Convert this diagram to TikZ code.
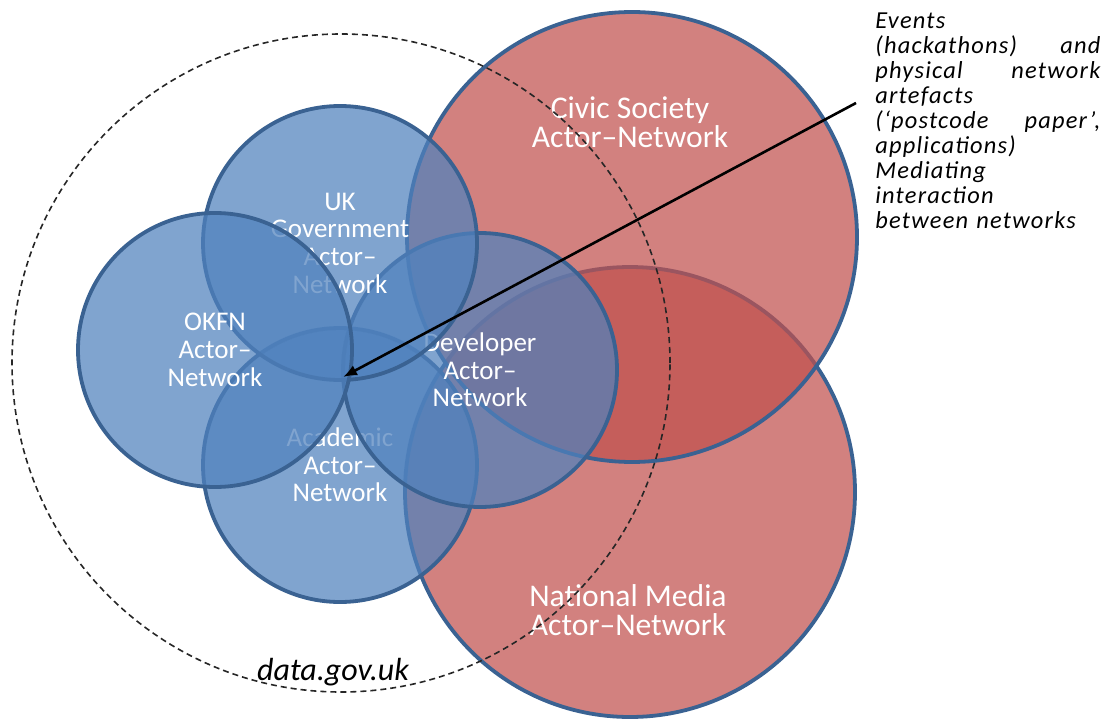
\documentclass[tikz,border=0pt]{standalone}
\usepackage{fontspec}
\setmainfont{Carlito}
\newfontfamily\notefont[LetterSpace=5]{Carlito}
\usetikzlibrary{arrows.meta,positioning}

\definecolor{accblue}{RGB}{79,129,189}
\definecolor{accred}{RGB}{192,80,77}
\definecolor{rimblue}{RGB}{58,98,146}

\tikzset{
  netcirc/.style={circle,draw=rimblue,line width=1.9pt,fill opacity=0.72,text opacity=1,
    inner sep=0pt,text=white,align=center},
  bluenet/.style={netcirc,fill=accblue,minimum size=137pt,
    font=\fontsize{13.5}{13.85}\selectfont},
  rednet/.style={netcirc,fill=accred,minimum size=225pt},
  redlabel/.style={text=white,align=center,
    font=\fontsize{15.8}{14.6}\selectfont},
  portal/.style={circle,draw=black!85,line width=0.8pt,dash pattern=on 3pt off 2pt,
    minimum size=329pt,inner sep=0pt},
  notebox/.style={text width=112.5pt,align=left,inner sep=0pt,
    font=\notefont\itshape\fontsize{12.2}{12.55}\selectfont},
}

\begin{document}
\setlength{\lineskiplimit}{-20pt}
\begin{tikzpicture}[x=0.5pt,y=-0.5pt]
  \useasboundingbox (0,0) rectangle (1111,721);
  % red actor-networks
  \node[rednet] (media) at (630,492) {};
  \node[rednet] (civic) at (632,237) {};
  \node[redlabel] (civiclbl) at (630,122) {Civic Society\\Actor–Network};
  \node[redlabel] (medialbl) at (628,610) {National Media\\Actor–Network};
  % blue actor-networks
  \node[bluenet] (academic) at (340,465) {Academic\\Actor–\\Network};
  \node[bluenet] (developer) at (480,370) {Developer\\Actor–\\Network};
  \node[bluenet] (ukgov) at (340,243) {UK\\Government\\Actor–\\Network};
  \node[bluenet] (okfn) at (215,350) {OKFN\\Actor–\\Network};
  % data.gov.uk boundary
  \node[portal] (datagov) at (341,363) {};
  \node[anchor=base,font=\itshape\fontsize{16}{18}\selectfont] (datagovlbl) at (333,680) {data.gov.uk};
  % annotation and its arrow
  \node[notebox,anchor=north west] (events) at (875,12) {Events\\
    (hackathons)\hfill and\\
    physical\hfill network\\
    artefacts\\
    (‘postcode\hfill paper’,\\
    applications)\\
    Mediating\\
    interaction\\
    between networks};
  \coordinate (evtail) at (856,103);
  \coordinate (meet) at (343,377);
  \draw[-{Latex[length=7pt,width=5.5pt]},line width=1.3pt] (evtail) -- (meet);
\end{tikzpicture}
\end{document}
